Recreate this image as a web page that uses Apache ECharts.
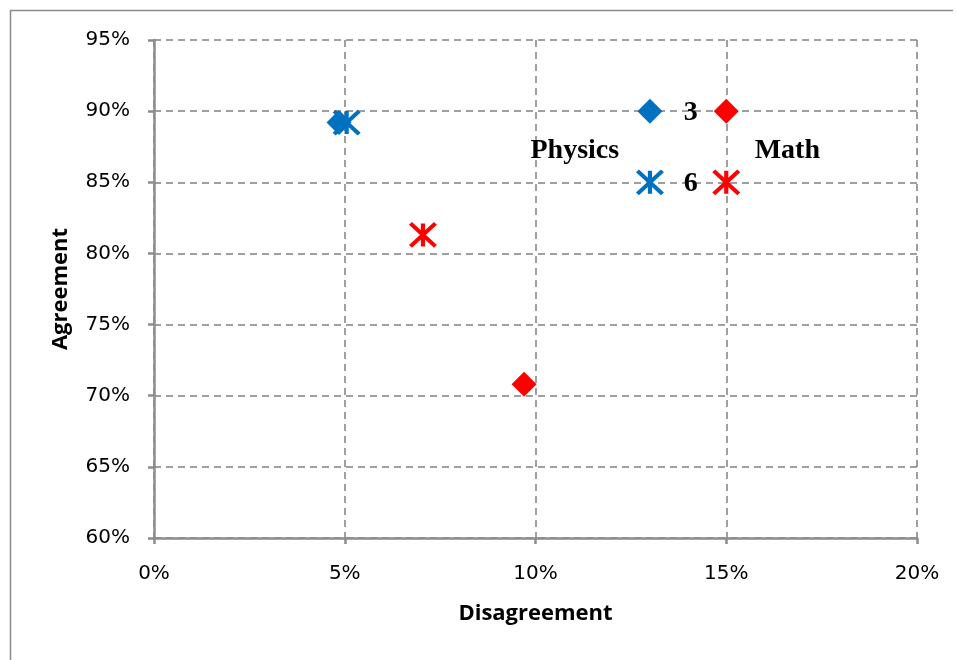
<!DOCTYPE html>
<html>
<head>
<meta charset="utf-8">
<script src="https://cdn.jsdelivr.net/npm/echarts@6/dist/echarts.min.js"></script>
<style>html,body{margin:0;padding:0;background:#fff;}#c{width:957px;height:660px;}</style>
</head>
<body>
<div id="c"></div>
<script>
// Data (percent values)
const physics3 = [[4.85, 89.2]];
const physics6 = [[5.05, 89.2]];
const math3 = [[9.7, 70.8]];
const math6 = [[7.05, 81.3]];
// In-plot key markers
const keyPhysics3 = [[13, 90]];
const keyPhysics6 = [[13, 85]];
const keyMath3 = [[15, 90]];
const keyMath6 = [[15, 85]];
// Key texts: [x, y, text]
const keyTexts = [[14.07, 89.9, '3'], [14.07, 84.9, '6'], [11.03, 87.25, 'Physics'], [16.6, 87.25, 'Math']];
const xTicks = [0, 5, 10, 15, 20];
const yTicks = [60, 65, 70, 75, 80, 85, 90, 95];

const BLUE = '#0070C0', RED = '#FF0000';
const ASTER = 'path://M0,0L24,22M24,0L0,22M12,0L12,22';

function asterSeries(data, color) {
  return {type: 'scatter', data: data, symbol: ASTER, symbolSize: [25, 23],
    itemStyle: {color: 'rgba(0,0,0,0)', borderColor: color, borderWidth: 4, opacity: 1},
    emphasis: {disabled: true}, z: 3};
}
function diamondSeries(data, color) {
  return {type: 'scatter', data: data, symbol: 'diamond', symbolSize: [25, 25],
    itemStyle: {color: color, opacity: 1}, emphasis: {disabled: true}, z: 4};
}

const chart = echarts.init(document.getElementById('c'), null, {renderer: 'canvas'});
const axisCommon = {
  axisLine: {show: true, lineStyle: {color: '#8c8c8c', width: 2.5}},
  axisTick: {show: true, length: 6, lineStyle: {color: '#8c8c8c', width: 2.5}},
  splitLine: {show: true, lineStyle: {color: '#808080', width: 1.5, type: [7, 5]}},
  axisLabel: {formatter: '{value}%', color: '#000', fontFamily: 'DejaVu Sans', fontSize: 20},
  nameTextStyle: {color: '#000', fontFamily: 'Open Sans', fontWeight: 'bold', fontSize: 22}
};
chart.setOption({
  animation: false,
  grid: {left: 154, right: 40, top: 40, bottom: 122, containLabel: false},
  xAxis: Object.assign({}, axisCommon, {
    type: 'value', min: xTicks[0], max: xTicks[xTicks.length - 1], interval: 5,
    name: 'Disagreement', nameLocation: 'middle', nameGap: 65,
    axisLabel: Object.assign({}, axisCommon.axisLabel, {margin: 26})
  }),
  yAxis: Object.assign({}, axisCommon, {
    type: 'value', min: yTicks[0], max: yTicks[yTicks.length - 1], interval: 5,
    name: 'Agreement', nameLocation: 'middle', nameGap: 82, nameRotate: 90,
    axisLabel: Object.assign({}, axisCommon.axisLabel, {margin: 24})
  }),
  series: [
    asterSeries(physics6, BLUE),
    diamondSeries(physics3, BLUE),
    asterSeries(math6, RED),
    diamondSeries(math3, RED),
    asterSeries(keyPhysics6, BLUE),
    diamondSeries(keyPhysics3, BLUE),
    asterSeries(keyMath6, RED),
    diamondSeries(keyMath3, RED),
    {type: 'scatter', data: keyTexts, symbol: 'circle', symbolSize: 1, z: 5,
     itemStyle: {color: 'rgba(0,0,0,0)', opacity: 1},
     label: {show: true, position: 'inside', formatter: p => p.data[2], color: '#000', opacity: 1,
       textBorderWidth: 0, fontFamily: 'Liberation Serif', fontWeight: 'bold', fontSize: 28},
     emphasis: {disabled: true}}
  ],
  graphic: [
    {type: 'line', shape: {x1: 10, y1: 10.5, x2: 953, y2: 10.5}, style: {stroke: '#8c8c8c', lineWidth: 1.5}},
    {type: 'line', shape: {x1: 10.5, y1: 10, x2: 10.5, y2: 660}, style: {stroke: '#8c8c8c', lineWidth: 1.5}}
  ]
});
</script>
</body>
</html>
